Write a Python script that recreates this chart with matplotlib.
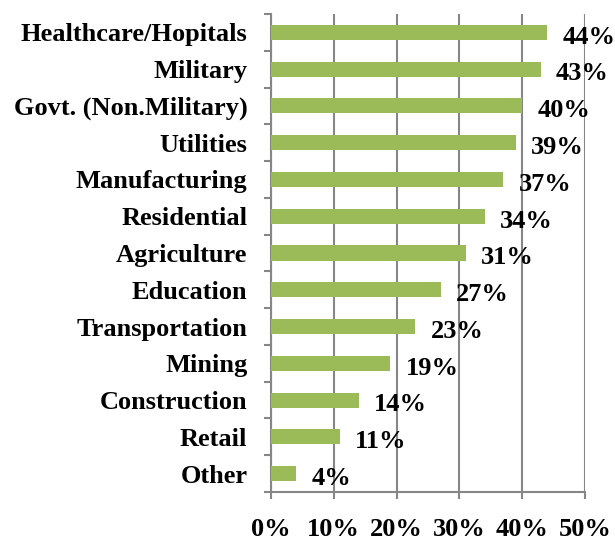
import matplotlib
matplotlib.use('Agg')
import matplotlib.pyplot as plt

categories = ['Healthcare/Hopitals', 'Military', 'Govt. (Non.Military)', 'Utilities',
              'Manufacturing', 'Residential', 'Agriculture', 'Education',
              'Transportation', 'Mining', 'Construction', 'Retail', 'Other']
values = [44, 43, 40, 39, 37, 34, 31, 27, 23, 19, 14, 11, 4]
ticks = [0, 10, 20, 30, 40, 50]
tick_labels = ['0%', '10%', '20%', '30%', '40%', '50%']

plt.rcParams['font.family'] = ['Liberation Serif', 'DejaVu Serif']
plt.rcParams['font.weight'] = 'bold'

fig = plt.figure(figsize=(6.15, 5.43), dpi=100)
ax = fig.add_axes([271 / 615, 51 / 543, 314 / 615, 478 / 543])

pos = list(range(len(categories)))[::-1]
ax.barh(pos, values, height=0.41, color='#9BBB59', zorder=3)
for p, v in zip(pos, values):
    ax.text(v + 2.4, p - 0.13, f'{v}%', va='center', ha='left',
            fontsize=19, fontweight='bold', zorder=4)

ax.set_xlim(0, 50)
ax.set_ylim(-0.5, len(categories) - 0.5)
ax.set_xticks(ticks)
ax.set_xticklabels(tick_labels, fontsize=19, fontweight='bold')
ax.set_yticks(pos)
ax.set_yticklabels(categories, fontsize=19, fontweight='bold')
ax.set_yticks([p + 0.5 for p in range(-1, len(categories))], minor=True)
ax.tick_params(axis='y', which='major', length=0, pad=17)
ax.tick_params(axis='y', which='minor', length=5, color='#868686', width=1.5)
ax.tick_params(axis='x', length=5, color='#868686', width=1.5, pad=14)

ax.grid(axis='x', color='#868686', linewidth=1.5, zorder=0)
for s in ['top', 'right']:
    ax.spines[s].set_visible(False)
for s in ['left', 'bottom']:
    ax.spines[s].set_color('#868686')
    ax.spines[s].set_linewidth(1.5)

fig.savefig('out.png', dpi=100)
